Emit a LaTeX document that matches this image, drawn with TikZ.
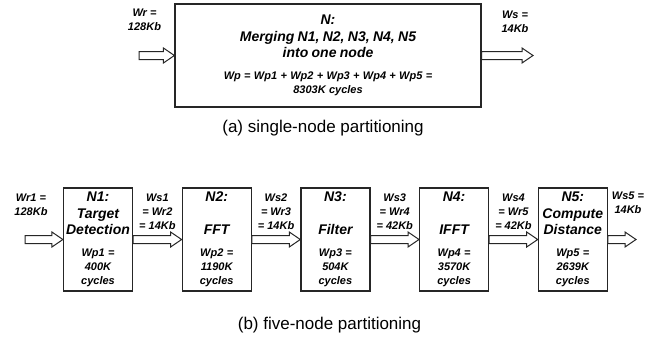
\documentclass[tikz,border=0pt]{standalone}
\usepackage{fontspec}
\setmainfont{Liberation Sans}
\usetikzlibrary{positioning, calc}

% hollow block arrow from one node anchor to another
\newcommand\fatarrow[2]{%
	\draw[fatarr] let \p1=(#1), \p2=(#2) in
		(\x1,\y1+4) -- (\x2-11,\y1+4) -- (\x2-11,\y1+7.5) -- (\x2,\y1)
		-- (\x2-11,\y1-7.5) -- (\x2-11,\y1-4) -- (\x1,\y1-4) -- cycle;}

% two-part text of a box: name and work, then processing cost
\newcommand\boxtext[2]{%
	{\fontsize{14}{16.5}\selectfont #1\par}\vspace{8pt}%
	{\fontsize{11}{14}\selectfont #2\par}}

\begin{document}
\begin{tikzpicture}[
		x=1pt, y=1pt,
		part/.style={draw=black!85, line width=1.2pt, rectangle, inner sep=0pt,
			minimum width=69pt, minimum height=103pt, text width=69pt, align=center,
			font=\bfseries\itshape},
		lbl/.style={inner sep=0pt, align=center,
			font=\fontsize{11}{14}\selectfont\bfseries\itshape},
		caption/.style={inner sep=0pt, font=\fontsize{17}{20}\selectfont},
		fatarr/.style={draw=black!85, line width=1pt, fill=white},
	]
	\useasboundingbox (0,0) rectangle (660,-341);

	% -- (a) single node --

	\node [part, minimum width=306pt, text width=300pt] (N) at (328,-55.5) {
		\boxtext{N:\\Merging N1, N2, N3, N4, N5\\into one node}
		{Wp = Wp1 + Wp2 + Wp3 + Wp4 + Wp5 =\\8303K cycles}
	};
	\coordinate (win) at (139,-55.5);
	\coordinate (wout) at (533,-55.5);
	\fatarrow{win}{N.west}
	\fatarrow{N.east}{wout}

	\node [lbl] (wr) at (144.5,-20) {Wr =\\128Kb};
	\node [lbl] (ws) at (515,-22) {Ws =\\14Kb};

	\node [caption] (capa) at (323,-128) {(a) single-node partitioning};

	% -- (b) five nodes --

	\node [part] (N1) at (98,-239.5) {
		\boxtext{N1:\\Target\\Detection}{Wp1 =\\400K\\cycles}
	};
	\node [part,right=48.5pt of N1] (N2) {
		\boxtext{N2:\\\mbox{}\\FFT}{Wp2 =\\1190K\\cycles}
	};
	\node [part,right=48.5pt of N2] (N3) {
		\boxtext{N3:\\\mbox{}\\Filter}{Wp3 =\\504K\\cycles}
	};
	\node [part,right=48.5pt of N3] (N4) {
		\boxtext{N4:\\\mbox{}\\IFFT}{Wp4 =\\3570K\\cycles}
	};
	\node [part,right=48.5pt of N4] (N5) {
		\boxtext{N5:\\Compute\\Distance}{Wp5 =\\2639K\\cycles}
	};

	\coordinate (w1in) at (25,-239.5);
	\coordinate (w5out) at (636,-239.5);
	\fatarrow{w1in}{N1.west}
	\fatarrow{N1.east}{N2.west}
	\fatarrow{N2.east}{N3.west}
	\fatarrow{N3.east}{N4.west}
	\fatarrow{N4.east}{N5.west}
	\fatarrow{N5.east}{w5out}

	% -- data sizes between nodes --
	\coordinate (m12) at ($(N1.east)!.5!(N2.west)$);
	\coordinate (m23) at ($(N2.east)!.5!(N3.west)$);
	\coordinate (m34) at ($(N3.east)!.5!(N4.west)$);
	\coordinate (m45) at ($(N4.east)!.5!(N5.west)$);

	\node [lbl] (wr1) at (31,-204.5) {Wr1 =\\128Kb};
	\node [lbl,above=10pt of m12] (ws1) {Ws1\\= Wr2\\= 14Kb};
	\node [lbl,above=10pt of m23] (ws2) {Ws2\\= Wr3\\= 14Kb};
	\node [lbl,above=10pt of m34] (ws3) {Ws3\\= Wr4\\= 42Kb};
	\node [lbl,above=10pt of m45] (ws4) {Ws4\\= Wr5\\= 42Kb};
	\node [lbl] (ws5) at (628,-202.5) {Ws5 =\\14Kb};

	\node [caption] (capb) at (329.5,-325) {(b) five-node partitioning};
\end{tikzpicture}
\end{document}
